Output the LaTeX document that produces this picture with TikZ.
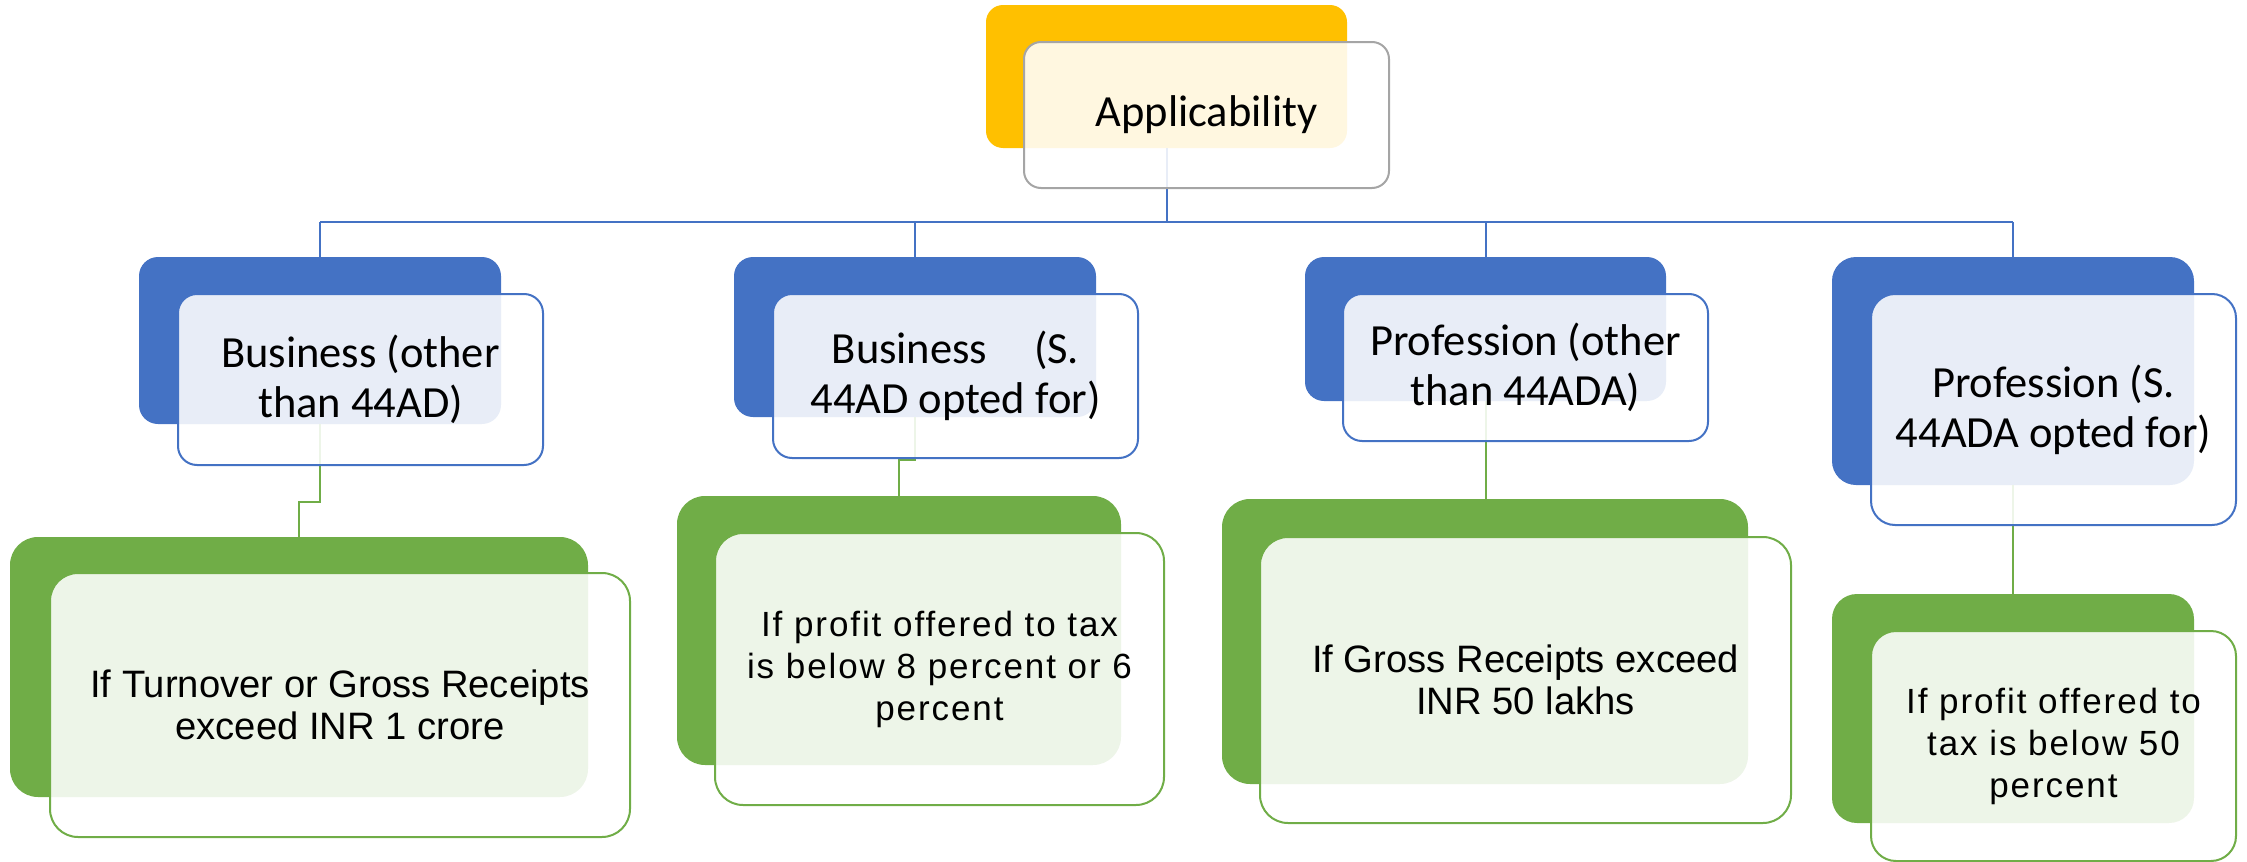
\documentclass[tikz,border=0pt]{standalone}
\usepackage{fontspec}
\setmainfont{Carlito}
\newfontfamily\calfont{Carlito}
\newfontfamily\arfont{Liberation Sans}
\newfontfamily\arwide[LetterSpace=5.5]{Liberation Sans}
\definecolor{myblue}{HTML}{4472C4}
\definecolor{mygreen}{HTML}{70AD47}
\definecolor{myyellow}{HTML}{FFC000}
\definecolor{mygray}{HTML}{A5A5A5}
\begin{document}
\begin{tikzpicture}[x=1pt,y=-1pt,
  box/.style={rectangle, inner sep=0pt, outer sep=0pt},
  backbox/.style={box, draw=none},
  yback/.style={backbox, fill=myyellow, rounded corners=17pt},
  bback/.style={backbox, fill=myblue, rounded corners=19pt},
  gback/.style={backbox, fill=mygreen, rounded corners=28pt},
  frontbox/.style={box, fill=white, fill opacity=0.88, text opacity=1, line width=2pt, align=center},
  yfront/.style={frontbox, draw=mygray, rounded corners=17pt, font=\calfont\fontsize{44.5}{50}\selectfont},
  bfront/.style={frontbox, draw=myblue, rounded corners=19pt, font=\calfont\fontsize{44.5}{50}\selectfont},
  gfront/.style={frontbox, draw=mygreen, rounded corners=28pt, font=\arfont\fontsize{38.2}{42}\selectfont},
  widetext/.style={font=\arwide\fontsize{35}{42}\selectfont},
  bline/.style={draw=myblue, line width=2pt},
  gline/.style={draw=mygreen, line width=2pt},
]
\useasboundingbox (0,0) rectangle (2247,862);

% back shapes
\node[yback, minimum width=361pt, minimum height=143pt] (appb) at (1166.5,76.5) {};
\node[bback, minimum width=362pt, minimum height=167pt] (b1b) at (320,340.5) {};
\node[bback, minimum width=362pt, minimum height=160pt] (b2b) at (915,337) {};
\node[bback, minimum width=361pt, minimum height=144pt] (b3b) at (1485.5,329) {};
\node[bback, minimum width=362pt, minimum height=228pt, rounded corners=24pt] (b4b) at (2013,371) {};
\node[gback, minimum width=578pt, minimum height=260pt] (g1b) at (299,667) {};
\node[gback, minimum width=444pt, minimum height=269pt] (g2b) at (899,630.5) {};
\node[gback, minimum width=526pt, minimum height=285pt] (g3b) at (1485,641.5) {};
\node[gback, minimum width=362pt, minimum height=229pt, rounded corners=25pt] (g4b) at (2013,708.5) {};

% connectors
\coordinate (hb) at (1166.5,222);
\coordinate (e1) at (0,502);
\coordinate (e2) at (0,460);
\draw[bline] (appb.south) -- (appb.south |- hb);
\draw[bline] (b1b.north |- hb) -- (b4b.north |- hb);
\foreach \n in {b1b,b2b,b3b,b4b}{
  \draw[bline] (\n.north |- hb) -- (\n.north);
}
\draw[gline] (b1b.south) -- (b1b.south |- e1) -| (g1b.north);
\draw[gline] (b2b.south) -- (b2b.south |- e2) -| (g2b.north);
\draw[gline] (b3b.south) -- (b3b.south |- g3b.north);
\draw[gline] (b4b.south) -- (g4b.north);

% front shapes with text
\node[yfront, minimum width=365pt, minimum height=146pt] (appf) at (1206.5,115) {Applicability};
\node[bfront, minimum width=365pt, minimum height=171pt] (b1f) at (360.5,379.5) {Business (other\\than 44AD)};
\node[bfront, minimum width=365pt, minimum height=164pt] (b2f) at (955.5,376) {Business\hspace{1.05em}(S.\\44AD opted for)};
\node[bfront, minimum width=365pt, minimum height=147pt] (b3f) at (1525.5,367.5) {Profession (other\\than 44ADA)};
\node[bfront, minimum width=365pt, minimum height=231pt, rounded corners=24pt] (b4f) at (2053.5,409.5) {Profession (S.\\44ADA opted for)};
\node[gfront, minimum width=580pt, minimum height=264pt] (g1f) at (340,705) {If Turnover or Gross Receipts\\exceed INR 1 crore};
\node[gfront, widetext, minimum width=449pt, minimum height=272pt] (g2f) at (939.5,669) {If profit offered to tax\\is below 8 percent or 6\\percent};
\node[gfront, minimum width=531pt, minimum height=286pt] (g3f) at (1525.5,680) {If Gross Receipts exceed\\INR 50 lakhs};
\node[gfront, widetext, minimum width=365pt, minimum height=230pt, rounded corners=25pt] (g4f) at (2053.5,746) {If profit offered to\\tax is below 50\\percent};
\end{tikzpicture}
\end{document}
